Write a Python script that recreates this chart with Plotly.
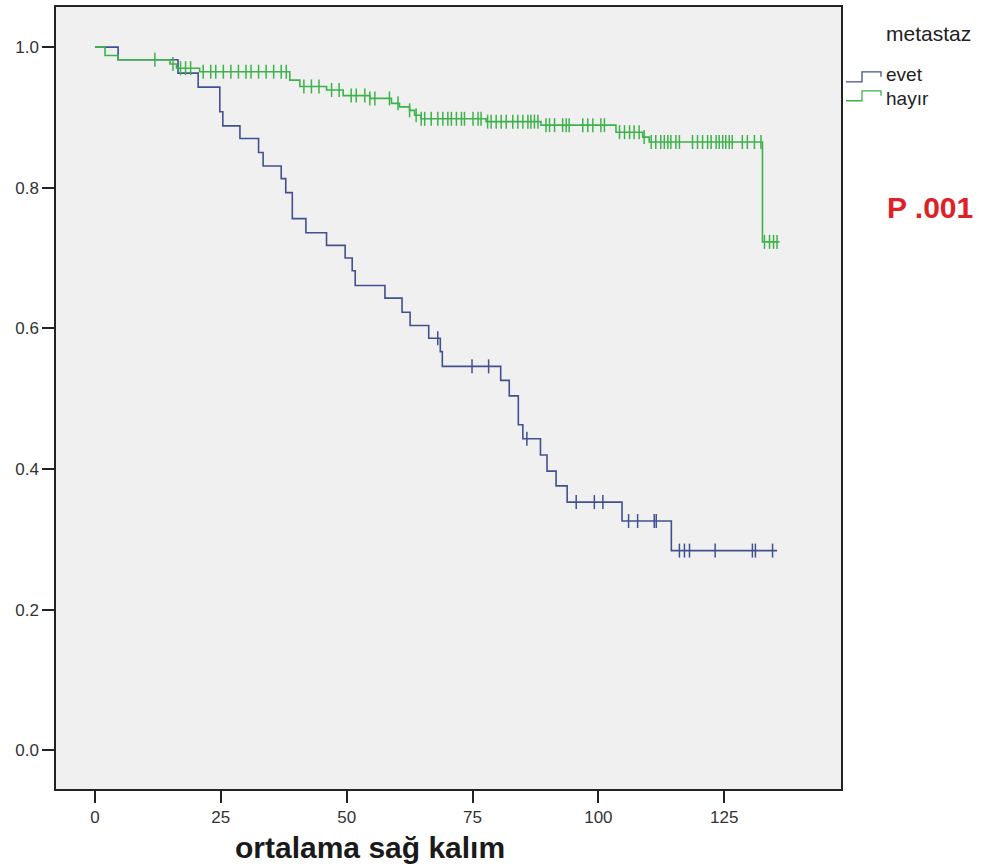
import numpy as np
import plotly.graph_objects as go

# ---- data ----
evet_times = [0, 4.6, 16.5, 20.5, 24.8, 25.4, 28.8, 32.5, 33.4, 37.0, 37.9, 39.2, 41.9,
              46.0, 49.7, 51.1, 51.7, 57.6, 61.0, 62.6, 66.3, 68.6, 69.0, 80.6, 82.3,
              84.1, 85.0, 88.5, 89.8, 91.6, 93.8, 104.7, 114.5, 135.5]
evet_surv = [1.0, 0.982, 0.963, 0.943, 0.908, 0.888, 0.870, 0.850, 0.831, 0.813, 0.793,
             0.756, 0.736, 0.718, 0.700, 0.682, 0.661, 0.643, 0.623, 0.604, 0.586, 0.567,
             0.546, 0.526, 0.504, 0.463, 0.443, 0.420, 0.397, 0.376, 0.353, 0.326, 0.284,
             0.284]
evet_censor = [68.1, 74.9, 78.2, 85.8, 95.6, 99.2, 100.9, 106.0, 107.8, 111.1, 111.5,
               116.1, 117.1, 118.1, 123.2, 130.6, 131.2, 134.6]

hayir_times = [0, 2.0, 4.6, 14.9, 16.2, 20.8, 38.7, 40.7, 46.0, 49.3, 54.6, 58.9, 60.5,
               62.5, 63.5, 64.8, 77.7, 88.6, 103.5, 108.8, 110.1, 132.6, 136.0]
hayir_surv = [1.0, 0.988, 0.982, 0.976, 0.970, 0.965, 0.953, 0.944, 0.939, 0.931, 0.927,
              0.920, 0.915, 0.910, 0.903, 0.898, 0.894, 0.889, 0.879, 0.872, 0.865, 0.723,
              0.723]
hayir_censor = [11.9, 15.5, 17.0, 18.0, 19.0, 21.5, 23.0, 24.0, 25.5, 27.0, 28.5, 30.0,
                31.0, 32.5, 34.0, 35.5, 37.0, 38.0, 41.5, 43.0, 44.5, 47.0, 48.5,
                50.9, 51.9, 53.6, 54.6, 55.6, 58.5, 60.2, 62.5, 63.8, 64.8, 65.5, 66.8,
                68.1, 69.1, 70.1, 70.8, 71.8, 72.8, 73.4, 75.1, 76.1, 76.7, 78.0, 78.7,
                79.7, 80.7, 81.7, 83.0, 84.0, 85.0, 86.0, 86.6, 87.3, 88.0, 89.6, 90.3,
                91.3, 92.9, 93.6, 94.2, 96.9, 97.9, 98.9, 100.5, 101.2, 104.2, 105.2,
                106.2, 107.1, 108.1, 109.1, 110.5, 111.4, 112.4, 113.1, 113.8, 114.4,
                115.4, 116.1, 118.7, 119.7, 120.7, 121.7, 122.4, 123.4, 124.0, 124.7,
                125.3, 126.0, 126.6, 128.6, 129.6, 131.0, 132.3, 133.0, 134.0, 134.8,
                135.5]

x_ticks = [0, 25, 50, 75, 100, 125]
y_ticks = [0.0, 0.2, 0.4, 0.6, 0.8, 1.0]

BLUE = "#41508f"
GREEN = "#3db24a"

# plot-area pixel geometry (for paper-coordinate placement of the legend texts)
L, R, T, B = 56, 841, 5, 789


def px(xp):
    return (xp - L) / (R - L)


def py(yp):
    return (B - yp) / (B - T)


def km_at(times, surv, t):
    idx = np.searchsorted(np.array(times), t, side="right") - 1
    return [surv[i] for i in idx]


fig = go.Figure()
for times, surv, cens, col, name in [
    (evet_times, evet_surv, evet_censor, BLUE, "evet"),
    (hayir_times, hayir_surv, hayir_censor, GREEN, "hayır"),
]:
    fig.add_trace(go.Scatter(x=times, y=surv, mode="lines", line_shape="hv",
                             line=dict(color=col, width=1.6), name=name,
                             showlegend=False))
    fig.add_trace(go.Scatter(x=cens, y=km_at(times, surv, cens), mode="markers",
                             marker=dict(symbol="line-ns", size=10,
                                         line=dict(color=col, width=1.5)),
                             showlegend=False, hoverinfo="skip"))

fig.update_layout(
    width=995, height=868,
    margin=dict(l=L, r=995 - R, t=T, b=868 - B),
    paper_bgcolor="white", plot_bgcolor="#f0f0f0",
    font=dict(family="Liberation Sans, Arial, sans-serif", size=17, color="#222"),
    showlegend=False,
)
fig.update_xaxes(range=[-7.74, 148.2], tickvals=x_ticks, ticks="outside", ticklen=12,
                 tickwidth=1.5, tickcolor="#222", showgrid=False, zeroline=False,
                 showline=True, linecolor="#222", linewidth=1.5, mirror=True,
                 tickfont=dict(size=17, color="#333"))
fig.update_yaxes(range=[-0.055, 1.057], tickvals=y_ticks, tickformat=".1f",
                 ticks="outside", ticklen=12, tickwidth=1.5, tickcolor="#222",
                 showgrid=False, zeroline=False, showline=True, linecolor="#222",
                 linewidth=1.5, mirror=True, tickfont=dict(size=17, color="#333"))

# x-axis title
fig.add_annotation(text="<b>ortalama sağ kalım</b>", xref="paper", yref="paper",
                   x=px(370), y=py(848), showarrow=False,
                   font=dict(size=30, color="#1a1a1a"), xanchor="center", yanchor="middle")

# legend (drawn manually to match step icons)
fig.add_annotation(text="metastaz", xref="paper", yref="paper", x=px(884), y=py(32),
                   showarrow=False, xanchor="left", yanchor="middle",
                   font=dict(size=21, color="#222"))
for name, col, ylo_px, yhi_px, ytxt in [("evet", BLUE, 80, 70, 73),
                                         ("hayır", GREEN, 99, 89, 97)]:
    x0, x1, x3 = px(846), px(862), px(881)
    ylo, yhi = py(ylo_px), py(yhi_px)
    fig.add_shape(type="path", xref="paper", yref="paper",
                  path=f"M {x0} {ylo} L {x1} {ylo} L {x1} {yhi} L {x3} {yhi} L {x3} {py((ylo_px + yhi_px) / 2)}",
                  line=dict(color=col, width=1.3))
    fig.add_annotation(text=name, xref="paper", yref="paper", x=px(884), y=py(ytxt),
                       showarrow=False, xanchor="left", yanchor="middle",
                       font=dict(size=19, color="#222"))

fig.add_annotation(text="<b>P .001</b>", xref="paper", yref="paper",
                   x=px(930), y=py(206), showarrow=False,
                   xanchor="center", yanchor="middle",
                   font=dict(size=30, color="#e02027"))

fig.write_html("out.html", config={"displayModeBar": False},
               post_script="document.body.style.margin='0';")
